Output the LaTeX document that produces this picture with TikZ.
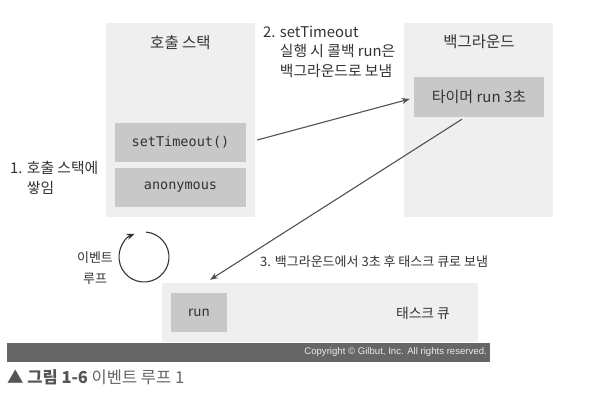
\documentclass[tikz,border=0pt]{standalone}
\usepackage{fontspec}
\setmainfont{Noto Sans CJK KR}
\newfontfamily\codefont{DejaVu Sans Mono}
\newfontfamily\latinfont{Liberation Sans}
\usepackage{xcolor}
\usetikzlibrary{arrows.meta,positioning}
\definecolor{panelgray}{HTML}{EFEFEF}
\definecolor{boxgray}{HTML}{C8C8C8}
\definecolor{inkgray}{HTML}{333333}
\definecolor{bargray}{HTML}{666666}
\definecolor{capdark}{HTML}{555555}
\definecolor{caplight}{HTML}{666666}

\begin{document}
\begin{tikzpicture}[
        x=1pt, y=-1pt,
        panel/.style={rectangle, fill=panelgray, inner sep=0pt, minimum width=149pt, minimum height=194pt},
        item/.style={rectangle, fill=boxgray, inner sep=0pt, text=inkgray, minimum height=39pt},
        codeitem/.style={item, minimum width=131pt, font=\codefont\fontsize{13.5}{16}\selectfont},
        title/.style={text=inkgray, inner sep=0pt, font=\fontsize{15.5}{18}\selectfont},
        note/.style={text=inkgray, inner sep=0pt, align=left, font=\fontsize{14.8}{19.5}\selectfont},
        smallnote/.style={text=inkgray, inner sep=0pt, font=\fontsize{13}{21}\selectfont},
        flow/.style={-{Stealth[length=8pt,width=6pt]}, draw=inkgray!85, line width=1.1pt},
        loopline/.style={-{Stealth[length=8pt,width=6pt]}, draw=inkgray, line width=1.1pt},
        ]

        \fill[white] (0,0) rectangle (605,401);
        \useasboundingbox (0,0) rectangle (605,401);

        % Call stack
        \node[panel] (stack) at (180.5,120) {};
        \node[title] (stacktitle) at (180.5,43) {호출 스택};
        \node[codeitem] (settimeout) at (180.5,142.5) {setTimeout()};
        \node[codeitem] (anonymous) at (180.5,187.5) {anonymous};

        % Background
        \node[panel] (background) at (478.5,120) {};
        \node[title] (bgtitle) at (479,42) {백그라운드};
        \node[item, minimum width=130pt, minimum height=40pt, font=\fontsize{15}{18}\selectfont] (timer) at (479,97) {타이머 run 3초};

        % Task queue
        \node[panel, minimum width=316pt, minimum height=59pt] (queue) at (320,312.5) {};
        \node[item, minimum width=56pt, font=\fontsize{13.5}{16}\selectfont] (run) at (199,312.5) {run};
        \node[title, font=\fontsize{13.8}{16}\selectfont] (queuetitle) at (423,313) {태스크 큐};

        % Notes
        \node[note, anchor=north west] (stacknote) at (10,160) {\strut 1. 호출 스택에\\\phantom{1. }쌓임\strut};
        \node[note, anchor=north west] (sendnote) at (263,23.5) {\strut 2. setTimeout\\\phantom{2. }실행 시 콜백 run은\\\phantom{2. }백그라운드로 보냄\strut};
        \node[smallnote, anchor=west] (queuenote) at (260,262) {3. 백그라운드에서 3초 후 태스크 큐로 보냄};
        \node[smallnote, align=center] (loopnote) at (95,269) {\strut 이벤트\\루프\strut};

        % Event loop
        \coordinate (loop) at (144,257);
        \draw[loopline] ([shift={(-85:25)}]loop) arc[start angle=-85, end angle=248, radius=25];

        % Arrows
        \draw[flow] ([xshift=11pt,yshift=2.5pt]settimeout.east) -- ([xshift=-4pt,yshift=-2pt]timer.west);
        \draw[flow] ([xshift=-17pt,yshift=-2pt]timer.south) -- ([xshift=11pt,yshift=13pt]run.north);

        % Footer
        \node[fill=bargray, inner sep=0pt, minimum width=483pt, minimum height=19pt] (bar) at (248.5,352.5) {};
        \node[anchor=east, inner sep=0pt, text=white!92!black, font=\latinfont\fontsize{9.6}{11}\selectfont] (copyright) at (487,352.5) {Copyright © Gilbut, Inc. All rights reserved.};
        \node[anchor=west, inner sep=0pt, font=\fontsize{16.5}{19}\selectfont] (caption) at (7,377) {\textcolor{capdark}{\bfseries ▲ 그림 1-6} \textcolor{caplight}{이벤트 루프 1}};

    \end{tikzpicture}
\end{document}
